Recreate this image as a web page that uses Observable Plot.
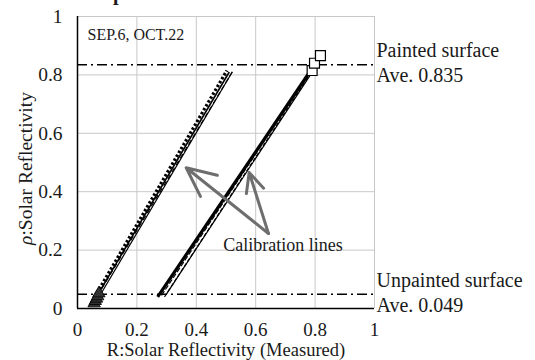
<!DOCTYPE html>
<html>
<head>
<meta charset="utf-8">
<script src="https://cdn.jsdelivr.net/npm/d3@7"></script>
<script src="https://cdn.jsdelivr.net/npm/@observablehq/plot@0.6"></script>
<style>
  html, body { margin: 0; padding: 0; background: #fff; }
  #chart svg { display: block; }
</style>
</head>
<body>
<div id="chart"></div>
<script>
// ---- data ----
const tickValues = [0, 0.2, 0.4, 0.6, 0.8, 1];
const tickLabels = ["0", "0.2", "0.4", "0.6", "0.8", "1"];

// calibration lines, left group (unpainted surface)
const leftX0 = [0.058, 0.064, 0.070, 0.068];
const leftY0 = [0.040, 0.040, 0.035, 0.045];
const leftX1 = [0.503, 0.511, 0.521, 0.524];
const leftY1 = [0.815, 0.810, 0.810, 0.815];

// calibration lines, right group (painted surface)
const rightX0 = [0.270, 0.283, 0.293, 0.300];
const rightY0 = [0.040, 0.045, 0.040, 0.050];
const rightX1 = [0.785, 0.790, 0.795, 0.792];
const rightY1 = [0.815, 0.820, 0.822, 0.812];

// measured points
const triX = [0.056, 0.060, 0.064, 0.068, 0.072];
const triY = [0.018, 0.026, 0.034, 0.042, 0.052];
const sqX = [0.790, 0.798, 0.818];
const sqY = [0.815, 0.840, 0.866];

// averages
const refValues = [0.835, 0.049];
const refNames = ["Painted surface", "Unpainted surface"];
const refAve = ["Ave. 0.835", "Ave. 0.049"];

// annotations
const arrowFrom = [0.643, 0.257];
const arrowToX = [0.366, 0.578];
const arrowToY = [0.482, 0.466];
const calibLabel = "Calibration lines";
const dateLabel = "SEP.6, OCT.22";
const xLabel = "R:Solar Reflectivity (Measured)";
const yLabel = "ρ:Solar Reflectivity";
const titleText = "Painted plate";

// ---- chart ----
const serif = "'Liberation Serif', 'Times New Roman', serif";
const ink = "#1a1a1a";
const idx = a => a.map((_, i) => i);

const leftStyles = [
  {strokeWidth: 3.2, strokeDasharray: "2.5,2"},
  {strokeWidth: 1.6},
  {strokeWidth: 1.2},
  {strokeWidth: 1.2, strokeDasharray: "5,3"}
];
const rightStyles = [
  {strokeWidth: 3.2},
  {strokeWidth: 1.2, strokeDasharray: "5,2"},
  {strokeWidth: 1.2, strokeDasharray: "4,2"},
  {strokeWidth: 1.2}
];

const lineMarks = [];
leftStyles.forEach((s, i) => lineMarks.push(Plot.link([i], {
  x1: d => leftX0[d], y1: d => leftY0[d], x2: d => leftX1[d], y2: d => leftY1[d],
  stroke: "#000", ...s
})));
rightStyles.forEach((s, i) => lineMarks.push(Plot.link([i], {
  x1: d => rightX0[d], y1: d => rightY0[d], x2: d => rightX1[d], y2: d => rightY1[d],
  stroke: "#000", ...s
})));

const txt = {fontFamily: serif, fill: ink};

const chart = Plot.plot({
  width: 535,
  height: 360,
  marginLeft: 77,
  marginRight: 161,
  marginTop: 16,
  marginBottom: 52,
  style: {fontFamily: serif, fontSize: "20px", color: ink, background: "#fff", overflow: "visible"},
  x: {domain: [0, 1]},
  y: {domain: [0, 1]},
  marks: [
    Plot.gridX(tickValues, {stroke: "#c8c8c8", strokeOpacity: 1, strokeWidth: 1}),
    Plot.gridY(tickValues, {stroke: "#c8c8c8", strokeOpacity: 1, strokeWidth: 1}),
    Plot.axisX(tickValues, {tickSize: 0, tickPadding: 13.5, fontSize: 19, label: null,
      tickFormat: (d, i) => tickLabels[i], ...txt}),
    Plot.axisY(tickValues, {tickSize: 0, tickPadding: 15, fontSize: 19.5, label: null,
      tickFormat: (d, i) => tickLabels[i], ...txt}),
    Plot.ruleY(refValues, {y: d => d, stroke: "#000", strokeWidth: 1.4, strokeDasharray: "10,4,2,4"}),
    ...lineMarks,
    Plot.dot(idx(triX), {x: d => triX[d], y: d => triY[d], symbol: "triangle", r: 4.6,
      fill: "#333", stroke: "#000", strokeWidth: 0.8}),
    Plot.dot(idx(sqX), {x: d => sqX[d], y: d => sqY[d], symbol: "square", r: 5.6,
      fill: "#fff", stroke: "#000", strokeWidth: 1.2}),
    Plot.ruleX([0], {stroke: "#000", strokeWidth: 1.5}),
    Plot.ruleY([0], {stroke: "#000", strokeWidth: 1.5}),
    Plot.arrow(idx(arrowToX), {
      x1: () => arrowFrom[0], y1: () => arrowFrom[1],
      x2: d => arrowToX[d], y2: d => arrowToY[d],
      stroke: "#6e6e6e", strokeWidth: 3, headLength: 16, headAngle: 50
    }),
    Plot.text([calibLabel], {x: 0.692, y: 0.218, text: d => d, fontSize: 18,
      textAnchor: "middle", lineAnchor: "middle", ...txt}),
    Plot.text([dateLabel], {x: 0.034, y: 0.9387, text: d => d, fontSize: 16,
      textAnchor: "start", lineAnchor: "middle", ...txt}),
    Plot.text(idx(refValues), {x: () => 1, y: d => refValues[d], text: d => refNames[d],
      dx: 2, dy: -13.6, fontSize: 20, textAnchor: "start", lineAnchor: "middle", ...txt}),
    Plot.text(idx(refValues), {x: () => 1, y: d => refValues[d], text: d => refAve[d],
      dx: 2, dy: 11.4, fontSize: 20, textAnchor: "start", lineAnchor: "middle", ...txt}),
    Plot.text([xLabel], {frameAnchor: "bottom", dy: 42, text: d => d, fontSize: 18.5,
      textAnchor: "middle", lineAnchor: "middle", ...txt}),
    Plot.text([yLabel], {frameAnchor: "left", dx: -52, dy: 6, rotate: -90, text: d => d,
      fontSize: 19.5, textAnchor: "middle", lineAnchor: "middle", ...txt}),
    Plot.text([titleText], {frameAnchor: "top-left", dx: -35, dy: -22.5, text: d => d,
      fontSize: 20, fontWeight: "bold", textAnchor: "start", lineAnchor: "middle", ...txt})
  ]
});

// italic rho in the y label
d3.select(chart).selectAll("text").each(function() {
  const t = d3.select(this);
  if (t.text() === yLabel) {
    t.text(null);
    t.append("tspan").attr("font-style", "italic").text(yLabel.slice(0, 1));
    t.append("tspan").text(yLabel.slice(1));
  }
});

document.getElementById("chart").appendChild(chart);
</script>
</body>
</html>
